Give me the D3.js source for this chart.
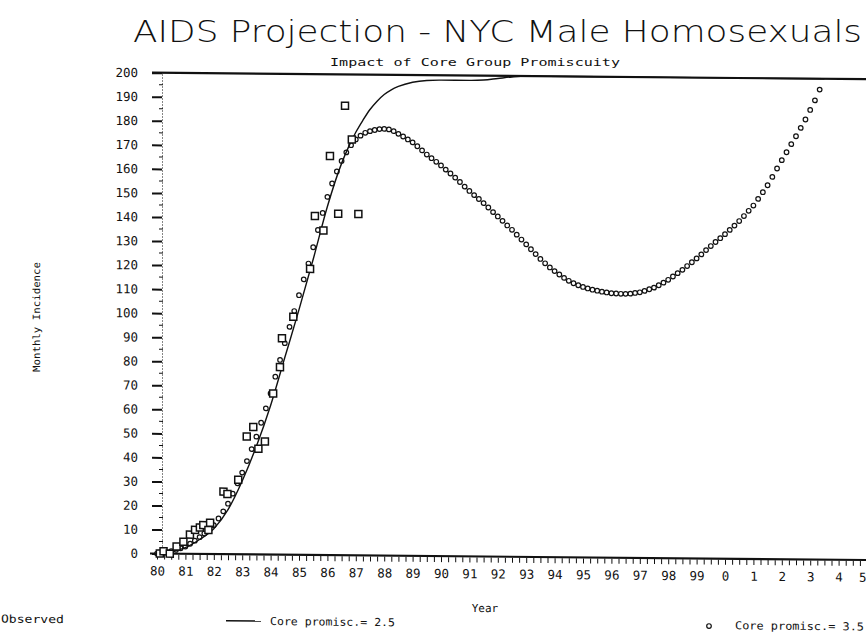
<!DOCTYPE html>
<html>
<head>
<meta charset="utf-8">
<script src="https://cdn.jsdelivr.net/npm/d3@7"></script>
<style>
  body { margin: 0; background: #fff; }
  svg { display: block; font-family: "DejaVu Sans Mono", monospace; }
</style>
</head>
<body>
<svg id="chart" width="866" height="641"></svg>
<script>
// observed monthly incidence (squares)
const obsYears = [1980.10, 1980.23, 1980.45, 1980.69, 1980.93, 1981.16, 1981.34, 1981.51, 1981.63, 1981.81,
                  1981.87, 1982.34, 1982.48, 1982.86, 1983.16, 1983.39, 1983.57, 1983.80, 1984.09, 1984.33,
                  1984.40, 1984.80, 1985.39, 1985.56, 1985.86, 1986.09, 1986.38, 1986.62, 1986.86, 1987.09];
const obsValues = [0, 1, 0, 3, 5, 8, 10, 11, 12, 10,
                   13, 26, 25, 31, 49, 53, 44, 47, 67, 78,
                   90, 99, 119, 141, 135, 166, 142, 187, 173, 142];

// model, core promiscuity 2.5 (solid line)
const p25Years = [1980, 1980.5, 1981, 1981.5, 1982, 1982.5, 1983, 1983.5, 1984, 1984.5,
                  1985, 1985.5, 1986, 1986.5, 1986.75, 1987, 1987.25, 1987.5, 1987.75, 1988,
                  1988.25, 1988.5, 1989, 1989.5, 1990, 1991, 1991.5, 1992, 1992.5, 1993,
                  1998, 2003.5];
const p25Values = [0, 0.8, 2.6, 6, 10.5, 18.5, 30.5, 45, 62, 82,
                   102, 123, 145, 163, 170, 176, 181, 185.5, 189, 191.8,
                   193.8, 195.2, 197, 197.8, 198, 198, 198.2, 198.9, 199.6, 200,
                   200, 200];

// model, core promiscuity 3.5 (circles), one reading every two months from Jan 1980
const p35Start = 1980;
const p35Step = 1 / 6;
const p35Values = [
  0, 0.2, 0.5, 1, 1.6, 2.3,
  3, 4.2, 5.5, 7, 8.5, 10.2,
  12, 14.8, 17.8, 21, 25.2, 29.5,
  34, 38.8, 43.8, 49, 54.8, 60.8,
  67, 74, 81, 88, 94.8, 101.4,
  108, 114.6, 121.2, 128, 135.2, 142.3,
  149, 154.6, 159.6, 164, 167.6, 170.6,
  173, 174.6, 175.8, 176.5, 177, 177.4,
  177.5, 177.3, 176.6, 175.5, 174.4, 173.2,
  172, 170.4, 168.7, 167, 165.5, 164,
  162.5, 160.8, 159.2, 157.5, 155.7, 153.8,
  152, 150.3, 148.7, 147, 145.2, 143.3,
  141.5, 139.7, 137.8, 136, 134, 132,
  130, 128, 126, 124, 122.2, 120.5,
  119, 117.6, 116.2, 115, 114, 113.2,
  112.5, 111.9, 111.4, 111, 110.6, 110.3,
  110, 109.9, 109.8, 109.8, 109.9, 110.2,
  110.5, 111.1, 111.8, 112.5, 113.5, 114.6,
  115.8, 117.2, 118.6, 120, 121.6, 123.2,
  124.8, 126.5, 128.3, 130, 131.7, 133.3,
  135, 136.8, 138.6, 140.5, 142.6, 144.8,
  147, 149.8, 152.6, 155.5, 159, 162.5,
  166, 169.3, 172.7, 176, 179.5, 183,
  187, 191, 195.5
];

const yTickValues = [0, 10, 20, 30, 40, 50, 60, 70, 80, 90, 100, 110, 120, 130, 140, 150, 160, 170, 180, 190, 200];
const xTickLabels = ["80", "81", "82", "83", "84", "85", "86", "87", "88", "89",
                     "90", "91", "92", "93", "94", "95", "96", "97", "98", "99",
                     "0", "1", "2", "3", "4", "5"];

const ink = "#111";
const svg = d3.select("#chart");

const x = d3.scaleLinear().domain([1980, 2005]).range([157, 867]);
const y = d3.scaleLinear().domain([0, 200]).range([553.5, 72.7]);

// title block (not skewed)
svg.append("text")
    .attr("x", 133).attr("y", 42)
    .attr("font-size", 30)
    .attr("font-family", "DejaVu Sans, sans-serif")
    .attr("font-weight", 200)
    .attr("textLength", 729).attr("lengthAdjust", "spacingAndGlyphs")
    .attr("fill", ink)
    .text("AIDS Projection - NYC Male Homosexuals");

svg.append("text")
    .attr("x", 330).attr("y", 66)
    .attr("font-size", 11)
    .attr("textLength", 290).attr("lengthAdjust", "spacingAndGlyphs")
    .attr("fill", ink)
    .text("Impact of Core Group Promiscuity");

// the scanned plot is slightly sheared, left edge anchored
const k = Math.tan(0.52 * Math.PI / 180);
const plot = svg.append("g")
    .attr("transform", `matrix(1,${k},0,1,0,${-k * 152})`);

// y axis
const yAxis = plot.append("g")
    .attr("transform", "translate(162,0)")
    .call(d3.axisLeft(y).tickValues(yTickValues).tickSize(10).tickPadding(14).tickFormat(d3.format("d")));
yAxis.select(".domain").attr("stroke", ink).attr("stroke-width", 1).attr("stroke-dasharray", "1,2");
yAxis.selectAll(".tick line").attr("stroke", ink).attr("stroke-width", 2);
yAxis.selectAll(".tick text").attr("fill", ink).attr("font-size", 12.5)
    .attr("font-family", "DejaVu Sans Mono, monospace");

// minor y ticks at the fives
plot.append("g").selectAll("line")
  .data(yTickValues.slice(0, -1))
  .join("line")
    .attr("x1", 159).attr("x2", 163)
    .attr("y1", d => y(d + 5)).attr("y2", d => y(d + 5))
    .attr("stroke", ink).attr("stroke-width", 1);

// x axis: quarterly minor ticks, labels on years
const xAxisMinor = plot.append("g")
    .attr("transform", `translate(0,${y(0) + 1})`)
    .call(d3.axisBottom(x).tickValues(d3.range(1980, 2005.01, 0.25)).tickSize(5).tickFormat(""));
xAxisMinor.select(".domain").remove();
xAxisMinor.selectAll(".tick line").attr("stroke", ink).attr("stroke-width", 1);

const xAxisLabels = plot.append("g")
    .attr("transform", `translate(0,${y(0) + 1})`)
    .call(d3.axisBottom(x).tickValues(xTickLabels.map((d, i) => 1980 + i)).tickSize(0).tickPadding(12)
      .tickFormat((d, i) => xTickLabels[i]));
xAxisLabels.select(".domain").remove();
xAxisLabels.selectAll(".tick text").attr("fill", ink).attr("font-size", 12.5)
    .attr("font-family", "DejaVu Sans Mono, monospace");
// last label sits on the right edge: keep it inside the picture
xAxisLabels.selectAll(".tick text").filter((d, i, n) => i === n.length - 1)
    .attr("text-anchor", "end").attr("dx", -1);

// baseline and the 200 line
plot.append("line")
    .attr("x1", 150).attr("x2", 866).attr("y1", y(0)).attr("y2", y(0))
    .attr("stroke", ink).attr("stroke-width", 2.2);
plot.append("line")
    .attr("x1", 152).attr("x2", 866).attr("y1", y(200)).attr("y2", y(200))
    .attr("stroke", ink).attr("stroke-width", 2.2);

// axis titles
plot.append("text")
    .attr("transform", `translate(40,${318}) rotate(-90)`)
    .attr("text-anchor", "middle")
    .attr("font-size", 10)
    .attr("textLength", 110).attr("lengthAdjust", "spacingAndGlyphs")
    .attr("fill", ink)
    .text("Monthly Incidence");

plot.append("text")
    .attr("x", 485).attr("y", 609)
    .attr("text-anchor", "middle")
    .attr("font-size", 11)
    .attr("fill", ink)
    .text("Year");

// 2.5 line
const line25 = d3.line()
    .x((d, i) => x(p25Years[i]))
    .y(d => y(d))
    .curve(d3.curveMonotoneX);
plot.append("path")
    .datum(p25Values)
    .attr("d", line25)
    .attr("fill", "none").attr("stroke", ink).attr("stroke-width", 1.4);

// 3.5 circles
plot.append("g").selectAll("circle")
  .data(p35Values)
  .join("circle")
    .attr("cx", (d, i) => x(p35Start + i * p35Step))
    .attr("cy", d => y(d))
    .attr("r", 2.3)
    .attr("fill", "none").attr("stroke", ink).attr("stroke-width", 1.2);

// observed squares
const sq = 7;
plot.append("g").selectAll("rect")
  .data(obsValues)
  .join("rect")
    .attr("x", (d, i) => x(obsYears[i]) - sq / 2)
    .attr("y", d => y(d) - sq / 2)
    .attr("width", sq).attr("height", sq)
    .attr("fill", "#fff").attr("stroke", ink).attr("stroke-width", 1.5);

// legend
const legend = plot.append("g").attr("font-size", 11).attr("fill", ink);
legend.append("text")
    .attr("x", 1).attr("y", 624)
    .attr("textLength", 63).attr("lengthAdjust", "spacingAndGlyphs")
    .text("Observed");
legend.append("line")
    .attr("x1", 226).attr("x2", 261).attr("y1", 620).attr("y2", 620)
    .attr("stroke", ink).attr("stroke-width", 1.5);
legend.append("text")
    .attr("x", 270).attr("y", 624)
    .attr("textLength", 125).attr("lengthAdjust", "spacingAndGlyphs")
    .text("Core promisc.= 2.5");
legend.append("circle")
    .attr("cx", 709).attr("cy", 621).attr("r", 2.3)
    .attr("fill", "none").attr("stroke", ink).attr("stroke-width", 1.2);
legend.append("text")
    .attr("x", 735).attr("y", 624)
    .attr("textLength", 129).attr("lengthAdjust", "spacingAndGlyphs")
    .text("Core promisc.= 3.5");
</script>
</body>
</html>
